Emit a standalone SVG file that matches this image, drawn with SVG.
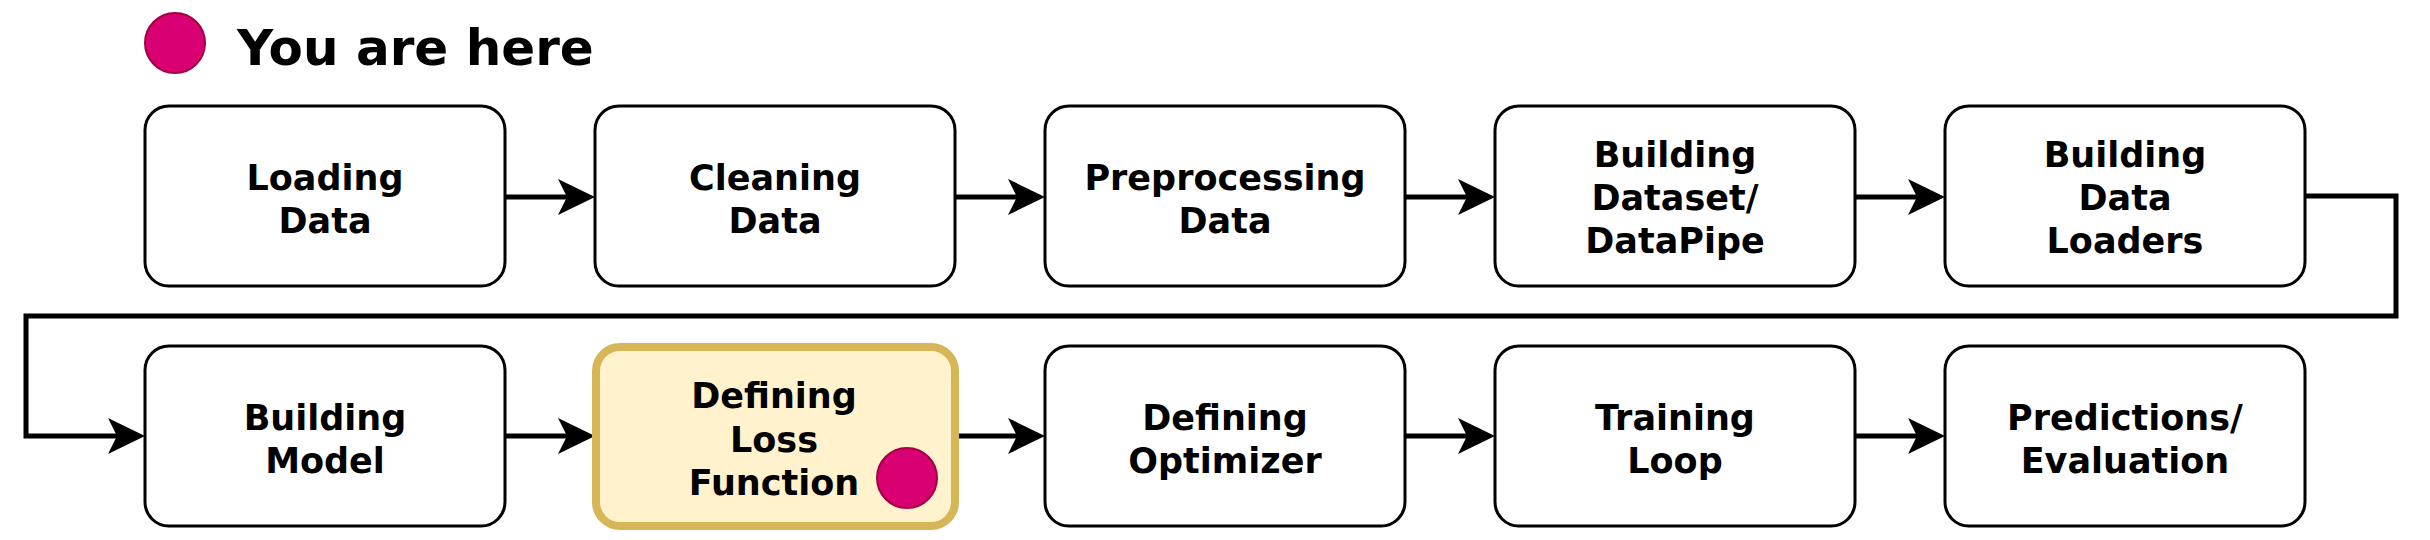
<svg xmlns="http://www.w3.org/2000/svg" width="2430" height="540" viewBox="0 0 2430 540">
<style>
.box{fill:#ffffff;stroke:#000000;stroke-width:3}
.hl{fill:#fff2cc;stroke:#d6b656;stroke-width:8}
.dot{fill:#d80073;stroke:#a50040;stroke-width:2}
.lbl{font-family:"DejaVu Sans",sans-serif;font-weight:bold;font-size:35px;fill:#000000;text-anchor:middle}
.title{font-family:"DejaVu Sans",sans-serif;font-weight:bold;font-size:50px;fill:#000000}
.edge{fill:none;stroke:#000000;stroke-width:5;stroke-linejoin:miter}
</style>
<defs>
<marker id="arr" viewBox="0 0 37 36" refX="9" refY="18" markerWidth="37" markerHeight="36" markerUnits="userSpaceOnUse" orient="auto">
<path d="M0,0 L37,18 L0,36 L9,18 Z" fill="#000000"/>
</marker>
</defs>
<rect width="2430" height="540" fill="#ffffff"/>
<g id="legend">
<circle class="dot" cx="175" cy="43" r="30"/>
<text class="title" x="237" y="65">You are here</text>
</g>
<g id="connectors">
<path class="edge" d="M505,197 H567" marker-end="url(#arr)"/>
<path class="edge" d="M955,197 H1017" marker-end="url(#arr)"/>
<path class="edge" d="M1405,197 H1467" marker-end="url(#arr)"/>
<path class="edge" d="M1855,197 H1917" marker-end="url(#arr)"/>
<path class="edge" d="M2305,196 H2396 V316 H26 V436 H117" marker-end="url(#arr)"/>
<path class="edge" d="M505,436 H567" marker-end="url(#arr)"/>
<path class="edge" d="M959,436 H1017" marker-end="url(#arr)"/>
<path class="edge" d="M1405,436 H1467" marker-end="url(#arr)"/>
<path class="edge" d="M1855,436 H1917" marker-end="url(#arr)"/>
</g>
<g id="n1"><rect class="box" x="145" y="106" width="360" height="180" rx="24"/>
<text class="lbl" x="325" y="190">Loading</text><text class="lbl" x="325" y="233">Data</text></g>
<g id="n2"><rect class="box" x="595" y="106" width="360" height="180" rx="24"/>
<text class="lbl" x="775" y="190">Cleaning</text><text class="lbl" x="775" y="233">Data</text></g>
<g id="n3"><rect class="box" x="1045" y="106" width="360" height="180" rx="24"/>
<text class="lbl" x="1225" y="190">Preprocessing</text><text class="lbl" x="1225" y="233">Data</text></g>
<g id="n4"><rect class="box" x="1495" y="106" width="360" height="180" rx="24"/>
<text class="lbl" x="1675" y="167">Building</text><text class="lbl" x="1675" y="210">Dataset/</text><text class="lbl" x="1675" y="253">DataPipe</text></g>
<g id="n5"><rect class="box" x="1945" y="106" width="360" height="180" rx="24"/>
<text class="lbl" x="2125" y="167">Building</text><text class="lbl" x="2125" y="210">Data</text><text class="lbl" x="2125" y="253">Loaders</text></g>
<g id="n6"><rect class="box" x="145" y="346" width="360" height="180" rx="24"/>
<text class="lbl" x="325" y="430">Building</text><text class="lbl" x="325" y="473">Model</text></g>
<g id="n7"><rect class="hl" x="596" y="347" width="359" height="179" rx="24"/>
<text class="lbl" x="774" y="408">Defining</text><text class="lbl" x="774" y="452">Loss</text><text class="lbl" x="774" y="495">Function</text>
<circle class="dot" cx="907" cy="478" r="30"/></g>
<g id="n8"><rect class="box" x="1045" y="346" width="360" height="180" rx="24"/>
<text class="lbl" x="1225" y="430">Defining</text><text class="lbl" x="1225" y="473">Optimizer</text></g>
<g id="n9"><rect class="box" x="1495" y="346" width="360" height="180" rx="24"/>
<text class="lbl" x="1675" y="430">Training</text><text class="lbl" x="1675" y="473">Loop</text></g>
<g id="n10"><rect class="box" x="1945" y="346" width="360" height="180" rx="24"/>
<text class="lbl" x="2125" y="430">Predictions/</text><text class="lbl" x="2125" y="473">Evaluation</text></g>
</svg>
